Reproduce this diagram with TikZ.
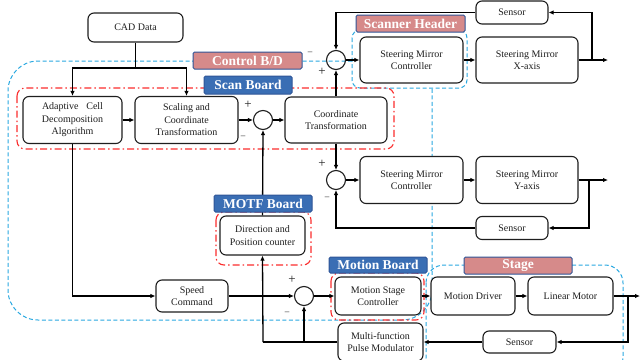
\documentclass[tikz,border=0pt]{standalone}
\usepackage{fontspec}
\setmainfont{Liberation Serif}
\usetikzlibrary{arrows.meta}
\definecolor{cyanc}{RGB}{41,168,224}
\definecolor{redc}{RGB}{250,45,45}
\definecolor{pinkc}{RGB}{214,138,138}
\definecolor{bluec}{RGB}{58,110,180}
\definecolor{lblborder}{RGB}{47,85,151}
\definecolor{ink}{RGB}{30,30,30}
\begin{document}
\begin{tikzpicture}[x=1pt,y=-1pt,
  blk/.style={draw=ink, line width=1.1pt, rounded corners=6pt, fill=white, align=center, inner sep=0pt, font=\fontsize{10}{12.5}\selectfont, text=ink},
  sumj/.style={draw=ink, circle, line width=1.1pt, minimum size=19pt, inner sep=0pt},
  conn/.style={draw=black, line width=1.3pt, -{Latex[length=5pt,width=4.5pt]}},
  wire/.style={draw=black, line width=1.3pt},
  pinklabel/.style={fill=pinkc, draw=lblborder, line width=1pt, rounded corners=1.5pt, text=white, font=\fontsize{13.5}{14}\selectfont\bfseries, inner sep=0pt},
  bluelabel/.style={fill=bluec, draw=lblborder, line width=1pt, rounded corners=1.5pt, text=white, font=\fontsize{13.5}{14}\selectfont\bfseries, inner sep=0pt},
  cyandash/.style={draw=cyanc, line width=1pt, dash pattern=on 4pt off 2.5pt},
  reddash/.style={draw=redc, line width=1.1pt, dash pattern=on 7pt off 3pt on 1.5pt off 3pt},
  pm/.style={font=\fontsize{13}{13}\selectfont, inner sep=0pt, text=ink},
  mn/.style={font=\fontsize{9}{9}\selectfont, inner sep=0pt, text=ink}
]
\useasboundingbox (0,0) rectangle (640,359);
\clip (0,0) rectangle (640,359);

% ---- dashed regions ----
\draw[cyandash, rounded corners=30pt] (352,61) -- (8,61) -- (8,320) -- (432,320) -- (432,88);
\draw[cyandash, rounded corners=8pt] (352,30) rectangle (467,88);
\draw[cyandash, rounded corners=18pt] (426,265) rectangle (623,375);
\draw[reddash, rounded corners=8pt] (17,88) rectangle (394,149);
\draw[reddash, rounded corners=8pt] (216,212) rectangle (311,265);
\draw[reddash, rounded corners=8pt] (331,273) rectangle (424,320);

% ---- blocks ----
\node[blk, minimum width=95pt, minimum height=29pt] (cad) at (135.5,27.5) {CAD Data};
\node[blk, minimum width=99pt, minimum height=47pt] (acd) at (72.5,120) {\makebox[61pt][s]{Adaptive Cell}\\Decomposition\\Algorithm};
\node[blk, minimum width=103pt, minimum height=47pt] (sct) at (186.5,120) {Scaling and\\Coordinate\\Transformation};
\node[sumj] (sj1) at (263,120) {};
\node[blk, minimum width=102pt, minimum height=46pt] (ct) at (336,120) {Coordinate\\Transformation};
\node[sumj] (sjx) at (336,60) {};
\node[blk, minimum width=103pt, minimum height=46pt] (smcx) at (411.5,60) {Steering Mirror\\Controller};
\node[blk, minimum width=102pt, minimum height=46pt] (smx) at (527,60) {Steering Mirror\\X-axis};
\node[blk, minimum width=72pt, minimum height=23pt] (sensx) at (512,12.5) {Sensor};
\node[sumj] (sjy) at (336,180) {};
\node[blk, minimum width=103pt, minimum height=47pt] (smcy) at (411.5,180) {Steering Mirror\\Controller};
\node[blk, minimum width=102pt, minimum height=47pt] (smy) at (527,180) {Steering Mirror\\Y-axis};
\node[blk, minimum width=72pt, minimum height=23pt] (sensy) at (512,228) {Sensor};
\node[blk, minimum width=85pt, minimum height=39pt] (dpc) at (262.5,235.5) {Direction and\\Position counter};
\node[blk, minimum width=72pt, minimum height=32pt] (spd) at (192,296) {Speed\\Command};
\node[sumj] (sjm) at (304,296) {};
\node[blk, minimum width=86pt, minimum height=38pt] (msc) at (378,296) {Motion Stage\\Controller};
\node[blk, minimum width=84pt, minimum height=38pt] (md) at (473,296) {Motion Driver};
\node[blk, minimum width=85pt, minimum height=38pt] (lm) at (570.5,296) {Linear Motor};
\node[blk, minimum width=73pt, minimum height=22pt] (senss) at (519.5,342) {Sensor};
\node[blk, minimum width=85pt, minimum height=38pt] (mpm) at (380.5,342) {Multi-function\\Pulse Modulator};

% ---- helper coordinates ----
\coordinate (cadsplit) at (135.5,68);
\coordinate (outx) at (608,60);
\coordinate (brx) at (592,60);
\coordinate (outy) at (608,180);
\coordinate (bry) at (589,180);
\coordinate (outs) at (640,296);
\coordinate (brs) at (628,296);
\coordinate (fbm) at (263,342);
\coordinate (fbj) at (304,342);

% ---- connectors ----
\draw[wire] (cad.south) -- (cadsplit);
\draw[conn] (cadsplit) -| (acd.north);
\draw[conn] (cadsplit) -| (sct.north);
\draw[conn] (acd.east) -- (sct.west);
\draw[conn] (sct.east) -- (sj1.west);
\draw[conn] (sj1.east) -- (ct.west);
\draw[conn] (ct.north) -- (sjx.south);
\draw[conn] (sjx.east) -- (smcx.west);
\draw[conn] (smcx.east) -- (smx.west);
\draw[conn] (smx.east) -- (outx);
\draw[conn] (brx) |- (sensx.east);
\draw[conn] (sensx.west) -| (sjx.north);
\draw[conn] (ct.south) -- (sjy.north);
\draw[conn] (sjy.east) -- (smcy.west);
\draw[conn] (smcy.east) -- (smy.west);
\draw[conn] (smy.east) -- (outy);
\draw[conn] (bry) |- (sensy.east);
\draw[conn] (sensy.west) -| (sjy.south);
\draw[conn] (dpc.north) -- (sj1.south);
\draw[conn] (acd.south) |- (spd.west);
\draw[conn] (spd.east) -- (sjm.west);
\draw[conn] (sjm.east) -- (msc.west);
\draw[conn] (msc.east) -- (md.west);
\draw[conn] (md.east) -- (lm.west);
\draw[conn] (lm.east) -- (outs);
\draw[conn] (brs) |- (senss.east);
\draw[conn] (senss.west) -- (mpm.east);
\draw[wire] (mpm.west) -- (fbm);
\draw[conn] (fbm) -- (dpc.south);
\draw[conn] (fbj) -- (sjm.south);

% ---- signs ----
\node[pm] (p1) at (248,105) {+};
\node[mn] (m1) at (243,137) {\textendash};
\node[mn] (mx) at (310,53) {\textendash};
\node[pm] (px) at (322,72) {+};
\node[pm] (py) at (322,164) {+};
\node[mn] (my) at (327,198) {\textendash};
\node[pm] (pmo) at (292,280) {+};
\node[mn] (mmo) at (287,313) {\textendash};

% ---- labels ----
\node[pinklabel, minimum width=109pt, minimum height=17pt] (lctl) at (247.5,60.5) {Control B/D};
\node[bluelabel, minimum width=88pt, minimum height=18pt] (lscan) at (248,85) {Scan Board};
\node[pinklabel, minimum width=109pt, minimum height=17pt] (lsh) at (410.5,23.5) {Scanner Header};
\node[bluelabel, minimum width=98pt, minimum height=17pt] (lmotf) at (263,203.5) {MOTF Board};
\node[bluelabel, minimum width=98pt, minimum height=16pt] (lmot) at (378,265) {Motion Board};
\node[pinklabel, minimum width=108pt, minimum height=17pt] (lstage) at (518,265.5) {Stage};
\end{tikzpicture}
\end{document}
